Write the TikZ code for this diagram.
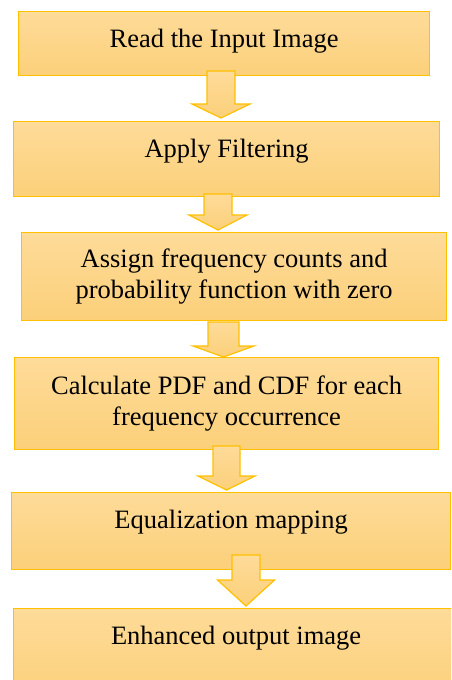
\documentclass[tikz,border=0pt]{standalone}
\usepackage{fontspec}
\setmainfont{Liberation Serif}
\usepackage{tikz}
\usetikzlibrary{calc}

\definecolor{boxedge}{RGB}{255,192,0}
\definecolor{boxtop}{RGB}{253,219,153}
\definecolor{boxbottom}{RGB}{252,208,122}

% block arrow between two named points: start, tip, shaft half width, head half width, head length
\newcommand{\fatarrow}[5]{%
  \draw[flowarrow] ($(#1)+(-#3,0)$) -- ($(#1)+(#3,0)$) -- ($(#2)+(#3,-#5)$)
    -- ($(#2)+(#4,-#5)$) -- (#2) -- ($(#2)+(-#4,-#5)$) -- ($(#2)+(-#3,-#5)$) -- cycle;}

\begin{document}
\begin{tikzpicture}[x=1pt, y=-1pt,
    stepbox/.style = {draw=boxedge, line width=1.2pt, top color=boxtop, bottom color=boxbottom,
      inner sep=0pt, anchor=north west, align=center,
      font=\fontsize{26.5}{31}\selectfont},
    oneline/.style = {text height=36pt, text depth=#1},
    flowarrow/.style = {draw=boxedge, line width=1.2pt, top color=boxtop, bottom color=boxbottom,
      line join=miter}]
  \useasboundingbox (0,0) rectangle (451,680);
  \clip (0,0) rectangle (451,680);

  % the steps
  \node[stepbox, oneline=28pt, minimum width=411pt, minimum height=64pt] (read) at (18,11) {Read the Input Image};
  \node[stepbox, oneline=39pt, minimum width=426pt, minimum height=75pt] (filter) at (13,121) {Apply Filtering};
  \node[stepbox, minimum width=425pt, minimum height=88pt] (assign) at (21,232)
    {Assign frequency counts and\\probability function with zero};
  \node[stepbox, minimum width=424pt, minimum height=92pt] (pdf) at (14,357)
    {Calculate PDF and CDF for each\\frequency occurrence};
  \node[stepbox, oneline=41pt, minimum width=439pt, minimum height=77pt] (equal) at (11,492) {Equalization mapping};
  \node[stepbox, oneline=54pt, minimum width=445pt, minimum height=90pt] (output) at (13,608) {Enhanced output image};

  % arrow ends
  \coordinate (a1) at (221,71);    \coordinate (b1) at (221,118);
  \coordinate (a2) at (218,194);   \coordinate (b2) at (218,230);
  \coordinate (a3) at (223.5,322); \coordinate (b3) at (223.5,357);
  \coordinate (a4) at (226.5,446); \coordinate (b4) at (226.5,490);
  \coordinate (a5) at (246,555);   \coordinate (b5) at (246,606);

  \fatarrow{a1}{b1}{14}{29}{14}
  \fatarrow{a2}{b2}{14}{29}{15}
  \fatarrow{a3}{b3}{15.5}{30.5}{11}
  \fatarrow{a4}{b4}{13.5}{28.5}{14}
  \fatarrow{a5}{b5}{14}{28.5}{26}
\end{tikzpicture}
\end{document}
